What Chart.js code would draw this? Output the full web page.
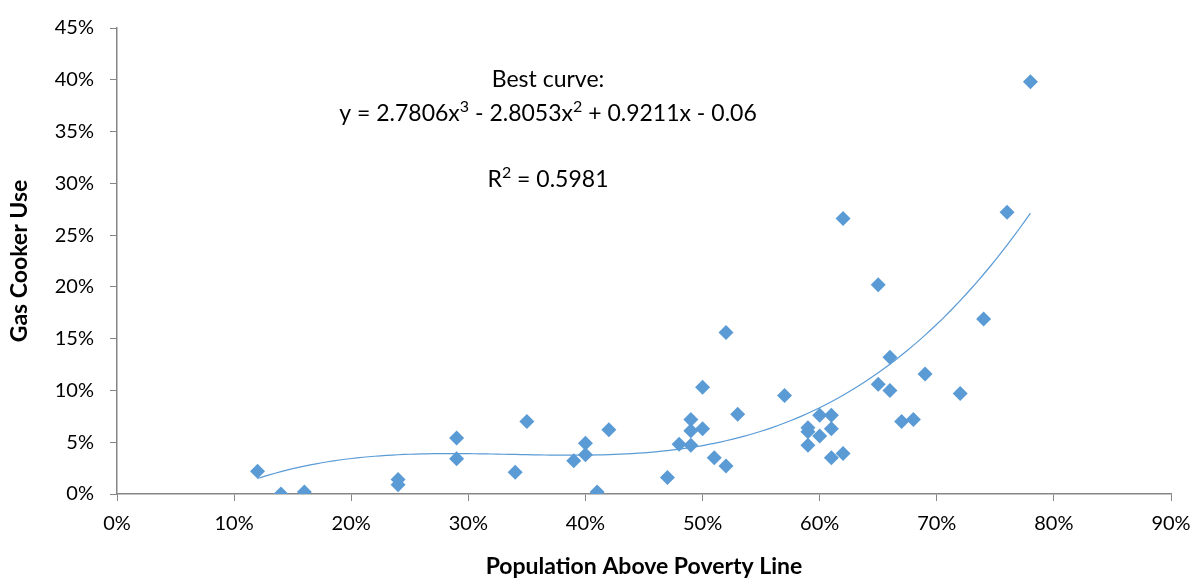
<!DOCTYPE html>
<html>
<head>
<meta charset="utf-8">
<script src="https://cdn.jsdelivr.net/npm/chart.js@4"></script>
<style>
  html, body { margin: 0; padding: 0; background: #ffffff; }
  #wrap { width: 1193px; height: 580px; position: relative; }
</style>
</head>
<body>
<div id="wrap"><canvas id="chart"></canvas></div>
<script>
// share of population above poverty line (x) vs gas cooker use (y)
const povertyShare = [
    0.12, 0.14, 0.16, 0.24, 0.24, 0.29, 0.29, 0.34, 0.35, 0.39,
    0.40, 0.40, 0.41, 0.42, 0.47, 0.48, 0.49, 0.49, 0.49, 0.50,
    0.50, 0.51, 0.52, 0.52, 0.53, 0.57, 0.59, 0.59, 0.59, 0.60,
    0.60, 0.61, 0.61, 0.61, 0.62, 0.62, 0.65, 0.65, 0.66, 0.66,
    0.67, 0.68, 0.69, 0.72, 0.74, 0.76, 0.78
];
const gasCookerUse = [
    0.022, 0.000, 0.002, 0.014, 0.009, 0.054, 0.034, 0.021, 0.070, 0.032,
    0.049, 0.038, 0.002, 0.062, 0.016, 0.048, 0.072, 0.061, 0.047, 0.103,
    0.063, 0.035, 0.027, 0.156, 0.077, 0.095, 0.064, 0.060, 0.047, 0.076,
    0.056, 0.076, 0.063, 0.035, 0.039, 0.266, 0.202, 0.106, 0.132, 0.100,
    0.070, 0.072, 0.116, 0.097, 0.169, 0.272, 0.398
];

// polynomial trendline as printed on the chart: a3, a2, a1, a0
const trendCoefficients = [2.7806, -2.8053, 0.9211, -0.06];
const trendRange = [0.12, 0.78];

const xTicks = [0, 0.1, 0.2, 0.3, 0.4, 0.5, 0.6, 0.7, 0.8, 0.9];
const yTicks = [0, 0.05, 0.1, 0.15, 0.2, 0.25, 0.3, 0.35, 0.4, 0.45];

// annotation text, superscript parts flagged
const annotationTitle = [{ t: 'Best curve:' }];
const annotationEquation = [
    { t: 'y = 2.7806x' }, { t: '3', sup: true },
    { t: ' - 2.8053x' }, { t: '2', sup: true },
    { t: ' + 0.9211x - 0.06' }
];
const annotationR2 = [{ t: 'R' }, { t: '2', sup: true }, { t: ' = 0.5981' }];

const pointColor = '#5B9BD5';
const axisColor = '#868686';
const fontFamily = "Lato, 'Open Sans', sans-serif";

Chart.defaults.color = '#000000';
Chart.defaults.font.family = fontFamily;

const scatterData = povertyShare.map(function(x, i) {
    return { x: x, y: gasCookerUse[i] };
});

const trendData = [];
for (let i = 0; i <= 132; i++) {
    const x = trendRange[0] + (trendRange[1] - trendRange[0]) * i / 132;
    const c = trendCoefficients;
    trendData.push({ x: x, y: c[0] * x * x * x + c[1] * x * x + c[2] * x + c[3] });
}

function percentLabel(value) {
    return Math.round(value * 100) + '%';
}

function drawRichLine(ctx, parts, cx, cy, size) {
    const normalFont = size + 'px ' + fontFamily;
    const supFont = Math.round(size * 0.68) + 'px ' + fontFamily;
    let total = 0;
    parts.forEach(function(p) {
        ctx.font = p.sup ? supFont : normalFont;
        p.w = ctx.measureText(p.t).width;
        total += p.w;
    });
    let x = cx - total / 2;
    parts.forEach(function(p) {
        ctx.font = p.sup ? supFont : normalFont;
        ctx.fillText(p.t, x, p.sup ? cy - size * 0.33 : cy);
        x += p.w;
    });
}

const annotationPlugin = {
    id: 'bestCurveText',
    afterDraw: function(chart) {
        const ctx = chart.ctx;
        ctx.save();
        ctx.fillStyle = '#000000';
        ctx.textAlign = 'left';
        ctx.textBaseline = 'middle';
        drawRichLine(ctx, annotationTitle, 548, 80, 23);
        drawRichLine(ctx, annotationEquation, 548, 114, 23);
        drawRichLine(ctx, annotationR2, 548, 180, 23);
        ctx.restore();
    }
};

new Chart(document.getElementById('chart'), {
    type: 'scatter',
    data: {
        datasets: [{
            label: 'Gas Cooker Use',
            data: scatterData,
            backgroundColor: pointColor,
            borderColor: pointColor,
            pointStyle: 'rectRot',
            pointRadius: 7.5,
            borderWidth: 0,
            order: 1
        }, {
            label: 'Trend',
            type: 'line',
            data: trendData,
            borderColor: pointColor,
            borderWidth: 1.2,
            pointRadius: 0,
            fill: false,
            tension: 0,
            order: 2
        }]
    },
    options: {
        responsive: true,
        maintainAspectRatio: false,
        animation: false,
        layout: { padding: { top: 25, right: 22, left: 0, bottom: 0 } },
        plugins: {
            legend: { display: false },
            tooltip: { enabled: false }
        },
        scales: {
            x: {
                type: 'linear',
                min: 0,
                max: 0.9,
                afterBuildTicks: function(scale) {
                    scale.ticks = xTicks.map(function(v) { return { value: v }; });
                },
                afterFit: function(scale) {
                    scale.height = 86;
                    scale.paddingLeft = 0;
                    scale.paddingRight = 0;
                },
                ticks: {
                    callback: percentLabel,
                    font: { size: 20 },
                    padding: 11,
                    color: '#000000'
                },
                grid: {
                    display: true,
                    drawOnChartArea: false,
                    drawTicks: true,
                    tickLength: 7,
                    color: axisColor
                },
                border: { display: true, color: axisColor, width: 1.5 },
                title: {
                    display: true,
                    text: 'Population Above Poverty Line',
                    font: { size: 23, weight: 'bold' },
                    padding: { top: 4, bottom: 0 }
                }
            },
            y: {
                type: 'linear',
                min: 0,
                max: 0.45,
                afterBuildTicks: function(scale) {
                    scale.ticks = yTicks.map(function(v) { return { value: v }; });
                },
                afterFit: function(scale) { scale.width = 117; },
                ticks: {
                    callback: percentLabel,
                    font: { size: 20 },
                    padding: 16,
                    color: '#000000'
                },
                grid: {
                    display: true,
                    drawOnChartArea: false,
                    drawTicks: true,
                    tickLength: 7,
                    color: axisColor
                },
                border: { display: true, color: axisColor, width: 1.5 },
                title: {
                    display: true,
                    text: 'Gas Cooker Use',
                    font: { size: 23, weight: 'bold' },
                    padding: { top: 6, bottom: 4 }
                }
            }
        }
    },
    plugins: [annotationPlugin]
});
</script>
</body>
</html>
